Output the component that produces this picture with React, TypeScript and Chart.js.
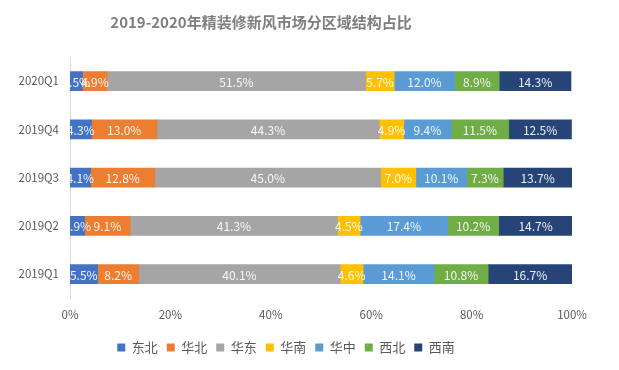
import React, { useEffect, useRef } from "react";
import { Chart, registerables } from "chart.js";

Chart.register(...registerables);

const titleText = "2019-2020年精装修新风市场分区域结构占比";
const categories = ["2020Q1", "2019Q4", "2019Q3", "2019Q2", "2019Q1"];
const seriesNames = ["东北", "华北", "华东", "华南", "华中", "西北", "西南"];
const dongbei = [2.5, 4.3, 4.1, 2.9, 5.5];
const huabei = [4.9, 13.0, 12.8, 9.1, 8.2];
const huadong = [51.5, 44.3, 45.0, 41.3, 40.1];
const huanan = [5.7, 4.9, 7.0, 4.5, 4.6];
const huazhong = [12.0, 9.4, 10.1, 17.4, 14.1];
const xibei = [8.9, 11.5, 7.3, 10.2, 10.8];
const xinan = [14.3, 12.5, 13.7, 14.7, 16.7];
const xTicks = [0, 20, 40, 60, 80, 100];

const colors = ["#4472C4", "#ED7D31", "#A5A5A5", "#FFC000", "#5B9BD5", "#70AD47", "#264478"];
const FONT = "'Noto Sans CJK SC', 'Noto Sans', sans-serif";

const labelPlugin = {
  id: "segLabels",
  afterDatasetsDraw(chart: any) {
    const ctx = chart.ctx;
    const area = chart.chartArea;
    ctx.save();
    ctx.beginPath();
    ctx.rect(area.left, area.top, area.right - area.left, area.bottom - area.top);
    ctx.clip();
    ctx.font = `12px ${FONT}`;
    ctx.fillStyle = "rgba(255,255,255,0.92)";
    ctx.textAlign = "center";
    ctx.textBaseline = "middle";
    chart.data.datasets.forEach((ds: any, i: number) => {
      const meta = chart.getDatasetMeta(i);
      meta.data.forEach((el: any, j: number) => {
        const v = ds.data[j];
        const x = (el.x + el.base) / 2;
        ctx.fillText(v.toFixed(1) + "%", x, el.y + 1);
      });
    });
    ctx.restore();
    // title
    ctx.save();
    ctx.font = `bold 15px ${FONT}`;
    ctx.fillStyle = "#7F7F7F";
    ctx.textAlign = "center";
    ctx.textBaseline = "middle";
    ctx.fillText(titleText, 261, 22);
    ctx.restore();
  },
};

export default function App() {
  const ref = useRef<HTMLCanvasElement>(null);
  useEffect(() => {
    const values = [dongbei, huabei, huadong, huanan, huazhong, xibei, xinan];
    const chart = new Chart(ref.current!, {
      type: "bar",
      data: {
        labels: categories,
        datasets: seriesNames.map((name, i) => ({
          label: name,
          data: values[i],
          backgroundColor: colors[i],
          borderWidth: 0,
          barThickness: 19,
        })),
      },
      options: {
        indexAxis: "y",
        animation: false,
        responsive: true,
        maintainAspectRatio: false,
        layout: { padding: { left: 0, right: 47, top: 57, bottom: 6 } },
        plugins: {
          title: { display: false },
          legend: {
            position: "bottom",
            labels: {
              color: "#595959",
              font: { family: FONT, size: 13 },
              boxWidth: 8,
              boxHeight: 8,
              padding: 9,
            },
          },
          tooltip: { enabled: false },
        },
        scales: {
          x: {
            stacked: true,
            min: 0,
            max: 100,
            grid: { display: false, drawTicks: false },
            border: { display: false },
            ticks: {
              stepSize: 20,
              color: "#595959",
              font: { family: FONT, size: 11.5 },
              padding: 10,
              callback: (v: any) => (xTicks.includes(v) ? v + "%" : ""),
            },
          },
          y: {
            stacked: true,
            grid: { display: false, drawTicks: false },
            border: { display: true, color: "#D9D9D9" },
            ticks: {
              color: "#595959",
              font: { family: FONT, size: 11.5 },
              padding: 11,
            },
            afterFit: (scale: any) => {
              scale.width = 70;
            },
          },
        },
      },
      plugins: [labelPlugin],
    });
    return () => chart.destroy();
  }, []);
  return (
    <div style={{ position: "fixed", left: 0, top: 0, width: 619, height: 370, background: "#fff" }}>
      <canvas ref={ref} />
    </div>
  );
}
